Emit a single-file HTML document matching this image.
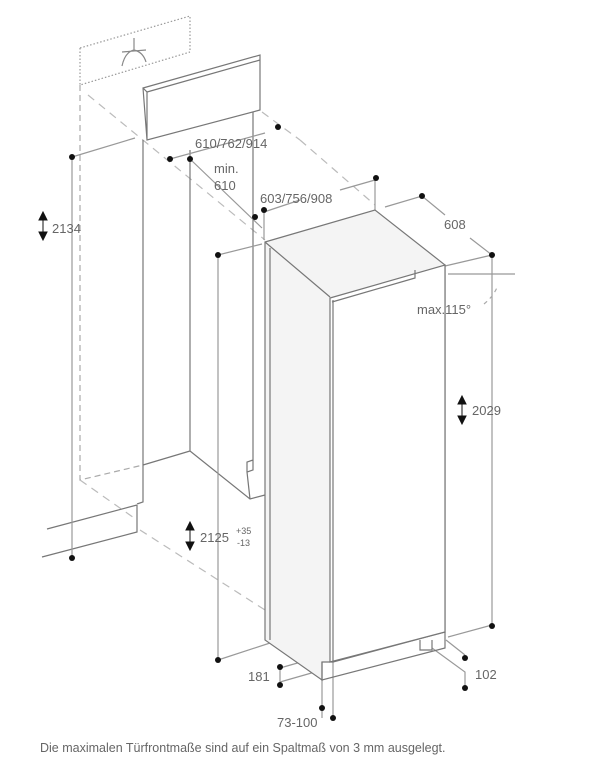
<!DOCTYPE html>
<html><head><meta charset="utf-8"><style>
html,body{margin:0;padding:0;background:#fff;}
svg{display:block}
text{font-family:"Liberation Sans",sans-serif;fill:#666;}
</style></head><body>
<svg width="600" height="767" viewBox="0 0 600 767" xmlns="http://www.w3.org/2000/svg">
<g fill="none" stroke="#777" stroke-width="1.2">
<path d="M80,48 L190,16 L190,52 M80,48 L80,85 L190,52" stroke-dasharray="1.5,2" stroke="#999"/>
<path d="M134,38 L134,50 M122,52 L146,50 M122,66 Q125,52 134,50 Q143,52 146,62" stroke="#888"/>
<path d="M80,85 L80,480 L143,465" stroke-dasharray="6,4" stroke="#aaa"/>
<path d="M88,95 L265,240" stroke-dasharray="8,6" stroke="#bbb"/>
<path d="M262,112 L300,140" stroke-dasharray="8,6" stroke="#bbb"/>
<path d="M80,480 L137,520 M140,530 L265,610" stroke-dasharray="8,6" stroke="#bbb"/>
<path d="M300,140 L375,205" stroke-dasharray="8,6" stroke="#bbb"/>
<path d="M143,88 L260,55 L260,110 L147,140 Z M147,92 L260,60 M143,88 L147,92 L147,140"/>
<path d="M143,140 L143,502 L137,504 M190,150 L190,451 L143,465 M190,451 L250,499 L265,495 M253,112 L253,470 L247,472 L250,499 M247,472 L247,462 L253,460"/>
<path d="M47,529 L137,505 M42,557 L137,532 L137,505"/>
<path d="M72,157 L72,558 M72,157 L135,138" stroke="#999"/>
<path d="M170,159 L265,133 M190,159 L262,228" stroke="#999"/>
<path d="M218,255 L218,660 M218,255 L262,244 M218,660 L270,643" stroke="#999"/>
<path d="M264,212 L264,240 M375,180 L375,210 M264,212 L300,200 M340,190 L375,180" stroke="#999"/>
<path d="M385,207 L422,196 L445,215 M470,238 L492,255 L492,625 L448,637 M445,266 L492,255 M448,274 L515,274" stroke="#999"/>
<path d="M365,303 Q390,312 412,311" stroke="#aaa" stroke-dasharray="4,4"/>
<path d="M484,304 Q494,296 498,285" stroke="#aaa" stroke-dasharray="4,4"/>
<path d="M280,668 L322,656 M280,682 L322,670 M280,668 L280,682" stroke="#999"/>
<path d="M322,680 L322,718 M333,662 L333,720" stroke="#999"/>
<path d="M432,648 L465,672 L465,688 M446,640 L465,655" stroke="#999"/>
<path d="M265,242 L265,640 L322,680 L322,662 L333,662 L445,632 L445,265 L375,210 L265,242 Z" fill="#f4f4f4"/>
<path d="M330,298 L330,662 L445,632 L445,265 Z" fill="#fff"/>
<path d="M265,242 L330,297 M333,300 L333,662 M415,270 L415,278 L332,302"/>
<path d="M270,248 L270,640 M322,662 L322,680 L445,648 L445,632"/>
<path d="M420,640 L420,650 L432,650 L432,640"/>
</g>
<g fill="#111">
<circle cx="72" cy="157" r="3"/><circle cx="72" cy="558" r="3"/>
<circle cx="170" cy="159" r="3"/><circle cx="190" cy="159" r="3"/><circle cx="278" cy="127" r="3"/>
<circle cx="255" cy="217" r="3"/><circle cx="264" cy="210" r="3"/>
<circle cx="218" cy="255" r="3"/><circle cx="218" cy="660" r="3"/>
<circle cx="376" cy="178" r="3"/><circle cx="422" cy="196" r="3"/><circle cx="492" cy="255" r="3"/>
<circle cx="492" cy="626" r="3"/>
<circle cx="280" cy="667" r="3"/><circle cx="280" cy="685" r="3"/>
<circle cx="322" cy="708" r="3"/><circle cx="333" cy="718" r="3"/>
<circle cx="465" cy="658" r="3"/><circle cx="465" cy="688" r="3"/>
<path d="M43,212 L39,220 L47,220 Z M43,240 L39,232 L47,232 Z M43,220 L43,232" stroke="#111"/>
<path d="M190,522 L186,530 L194,530 Z M190,550 L186,542 L194,542 Z M190,530 L190,542" stroke="#111"/>
<path d="M462,396 L458,404 L466,404 Z M462,424 L458,416 L466,416 Z M462,404 L462,416" stroke="#111"/>
</g>
<g font-size="13">
<text x="52" y="233">2134</text>
<text x="195" y="148">610/762/914</text>
<text x="214" y="173">min.</text>
<text x="214" y="190">610</text>
<text x="260" y="203">603/756/908</text>
<text x="444" y="229">608</text>
<text x="417" y="314">max.115°</text>
<text x="472" y="415">2029</text>
<text x="200" y="542">2125</text>
<text x="236" y="534" font-size="9">+35</text>
<text x="237" y="546" font-size="9">-13</text>
<text x="248" y="681">181</text>
<text x="475" y="679">102</text>
<text x="277" y="727">73-100</text>
<text x="40" y="752" font-size="12.5">Die maximalen Türfrontmaße sind auf ein Spaltmaß von 3 mm ausgelegt.</text>
</g>
</svg>
</body></html>
